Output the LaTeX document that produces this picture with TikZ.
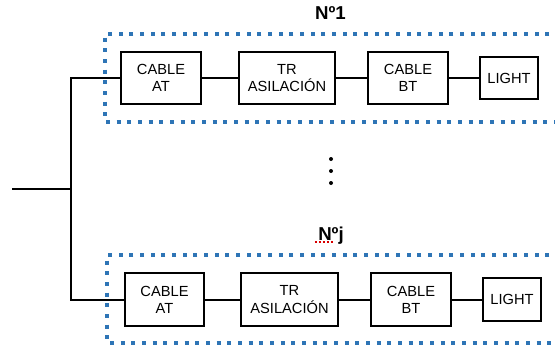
\documentclass[tikz,border=0pt]{standalone}
\usepackage{fontspec}
\setmainfont{Liberation Sans}
\definecolor{grpblue}{RGB}{46,117,182}
\tikzset{every picture/.style={line width=1.5pt}}
\tikzset{
  blk/.style={draw, line width=1.5pt, align=center, inner sep=0pt, minimum height=39pt, font=\fontsize{11}{12.8}\selectfont},
  lamp/.style={blk, minimum width=43.5pt, minimum height=31.5pt},
  grp/.style={draw=grpblue, line width=3pt, dash pattern=on 3pt off 5pt},
  grptitle/.style={anchor=base, font=\bfseries\fontsize{14}{16}\selectfont}
}

\begin{document}
\begin{tikzpicture}[x=0.75pt,y=0.75pt,yscale=-1,xscale=1]
\useasboundingbox (0,0) rectangle (555,351);

%Shape: Dotted group 1
\draw [grp] (560,34) -- (105,34) -- (105,122) -- (560,122) ;
%Shape: Dotted group j
\draw [grp] (560,255) -- (107,255) -- (107,343) -- (560,343) ;

% Text Node
\node [grptitle] (n1) at (330.5,19) {Nº1};
% Text Node
\node [grptitle] (nj) at (331,240) {Nºj};
% spell check mark
\draw [red!85!black, line width=1pt, dash pattern=on 1.5pt off 1.5pt] (nj.base west) ++(2,2) coordinate (sq0) -- ++(19,0) coordinate (sq1) ;

% Row 1
\node [blk, minimum width=60pt] (cat1) at (161,78) {CABLE\\AT};
\node [blk, minimum width=72pt] (tr1) at (287,78) {TR\\ASILACIÓN};
\node [blk, minimum width=60pt] (cbt1) at (408,78) {CABLE\\BT};
\node [lamp] (lt1) at (509,78) {LIGHT};

% Row j
\node [blk, minimum width=59.5pt, minimum height=40pt] (catj) at (164.5,299.5) {CABLE\\AT};
\node [blk, minimum width=72.5pt, minimum height=40pt] (trj) at (289.5,299.5) {TR\\ASILACIÓN};
\node [blk, minimum width=60pt, minimum height=40pt] (cbtj) at (411,299.5) {CABLE\\BT};
\node [lamp, minimum height=32pt] (ltj) at (512,299.5) {LIGHT};

% Dots
\fill (331,159) circle (2) coordinate (d1);
\fill (331,171) circle (2) coordinate (d2);
\fill (331,183) circle (2) coordinate (d3);

%Straight Lines
\coordinate (feed) at (12,189);
\coordinate (bus) at (71,189);
\draw (feed) -- (bus) ;
\draw (cat1.west) -| (bus) ;
\draw (catj.west) -| (bus) ;
\draw (cat1) -- (tr1) ;
\draw (tr1) -- (cbt1) ;
\draw (cbt1) -- (lt1) ;
\draw (catj) -- (trj) ;
\draw (trj) -- (cbtj) ;
\draw (cbtj) -- (ltj) ;

\end{tikzpicture}
\end{document}
